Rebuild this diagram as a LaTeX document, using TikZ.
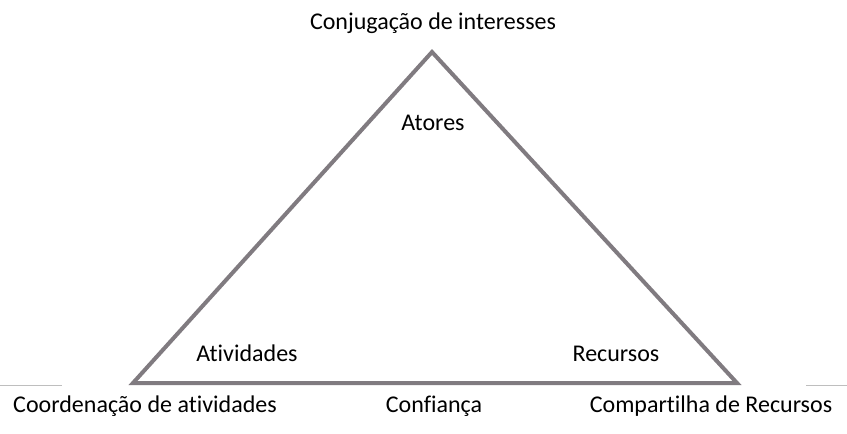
\documentclass[tikz,border=0pt]{standalone}
\usepackage{fontspec}
\setmainfont[Ligatures={NoCommon}]{Carlito}
\definecolor{trigray}{RGB}{128,123,128}
\definecolor{rulegray}{RGB}{190,190,190}
\begin{document}
\begin{tikzpicture}[x=1pt,y=-1pt,
  rotulo/.style={anchor=base,inner sep=0pt,font=\fontsize{24}{28}\selectfont}]
  \useasboundingbox (0,0) rectangle (847,434);
  % vertices do triangulo
  \coordinate (topo) at (432,52);
  \coordinate (esq) at (133,383);
  \coordinate (dir) at (737,383);
  \draw[trigray,line width=4pt,line join=miter] (topo)--(esq)--(dir)--cycle;
  % linhas soltas
  \draw[rulegray,line width=1pt] (0,385.5)--(62,385.5);
  \draw[rulegray,line width=1pt] (806,385.5)--(847,385.5);
  % rotulos
  \node[rotulo] (conj) at (433,29) {Conjugação de interesses};
  \node[rotulo] (atores) at (433,130) {Atores};
  \node[rotulo] (ativ) at (247,361) {Atividades};
  \node[rotulo] (recur) at (616,361) {Recursos};
  \node[rotulo] (coord) at (145,412) {Coordenação de atividades};
  \node[rotulo] (conf) at (434,412) {Confiança};
  \node[rotulo] (comp) at (711,412) {Compartilha de Recursos};
\end{tikzpicture}
\end{document}
